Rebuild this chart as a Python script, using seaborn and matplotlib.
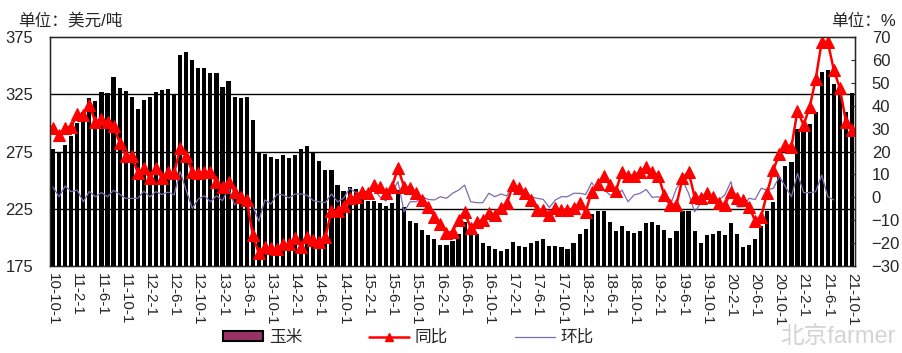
import numpy as np
import pandas as pd
import seaborn as sns
import matplotlib.pyplot as plt
from matplotlib.patches import Patch
from matplotlib.lines import Line2D

# 玉米价格 (美元/吨), monthly 2010-10 .. 2021-10
corn = [277, 273.5, 281, 289, 300, 310, 322, 319, 327, 326,
        340, 331, 328, 323, 312, 320, 323, 327, 329, 329.5,
        325.5, 359.5, 362.5, 355, 348.5, 348.5, 343.5, 343.5, 331.5, 336.5,
        323, 321.5, 323, 303, 275, 273, 270, 268, 272, 269,
        272, 277, 280, 274.5, 267, 259, 259, 246, 240, 243.5,
        242.5, 238, 231.5, 231.5, 229.5, 227, 229.5, 241, 226, 214.5,
        212, 206.5, 201.5, 198, 193.5, 193.5, 197, 202.5, 213, 206,
        202.5, 194.5, 192.5, 190, 188, 189.5, 196, 192.5, 191.5, 194.5,
        197, 198.5, 192.5, 192.5, 191, 190, 194.5, 203, 207.5, 220.5,
        223, 222.5, 213.5, 205.5, 210, 205, 204, 205.5, 212.5, 213.5,
        211, 206.5, 199.5, 205, 222.5, 222.5, 205, 195, 202, 203,
        205, 202, 212, 203, 191.5, 193.5, 198, 210, 222.5, 231,
        252.5, 262, 265.5, 295, 294, 299.5, 309.5, 344.5, 346.5, 334.5,
        328, 309.5, 326]

# 同比 (%)
yoy = [30.4, 27.2, 30.4, 30.9, 36.4, 36, 40.4, 33, 34.2, 33,
       31.2, 23.9, 18.2, 18.2, 10.7, 12.6, 8.2, 12.6, 8.2, 11.2,
       10.4, 21.4, 18.2, 11.2, 10.4, 11.2, 10.9, 6.5, 4.6, 6.8,
       2.4, 0.2, -1.2, -16.6, -24.6, -21.7, -22.4, -22.8, -20.5, -20.7,
       -18, -21.7, -17.6, -18.8, -19.5, -17.6, -5.9, -5.9, -3.7, -0.5,
       -0.1, 2.4, 2, 5.3, 4.6, 1.7, 4.6, 12.6, 4.6, 3.9,
       1.7, -1.2, -4.2, -8.5, -11.9, -15.8, -15.1, -9.8, -6.4, -13.6,
       -10.7, -10, -7, -7.6, -4.7, -2.5, 5.3, 4.1, 1.8, -1.2,
       -5.6, -5.6, -7.6, -4.9, -5.6, -5.6, -4.9, -2.7, -6.4, 2.4,
       5.8, 9.3, 5.3, 2.8, 11.2, 9.4, 9.4, 11.2, 13.1, 11.2,
       9.4, 0.9, -3.4, -3.4, 8.2, 11.2, 0.2, -0.5, 1.7, 0.2,
       -2.7, -3.4, 2.4, -0.5, -1.2, -4.2, -10.3, -8.5, 2, 11.9,
       18.9, 22.8, 22.1, 37.9, 31.6, 39.3, 51.6, 68, 68, 55.7,
       47.7, 33.1, 29.4]

# 环比 (%), no data for the last three months
mom = [4.4, 0.2, 4.9, 2.4, 3.1, -2, 2.5, 0.2, 2, 0.2,
       3, 1.3, -0.5, -0.5, -0.5, 2.6, 0.2, 2.4, 1.2, 2.2,
       1, 11.2, 3, -4.9, -0.8, 0.6, -2, 0.6, -1.5, 4,
       -3.4, -0.7, -1.2, -3.8, -10.5, -1.2, -3, 1.3, 1, -0.3,
       1.4, 1.4, 0.8, -1.5, -2, -2.4, 1.4, -2, -0.5, 3.9,
       2, 1.7, 0.5, 3.1, 0.2, -1.7, 2.4, 6.8, -6.4, -2,
       -2, 0.2, -1, -1.2, 0.2, -0.5, 1.7, 3.1, 5.3, -2,
       -2.4, -2.4, 1.7, 0.2, 1.4, 0.5, 6.8, 2.4, 3.1, 0.2,
       -0.5, -1, -4.5, -1.2, 0.2, 0.2, 1.7, 1.7, 1.2, 6.4,
       2.8, 3.4, 1, 0.5, 3.1, -2, 1, 1.7, 3.4, -0.1,
       0.2, -1, -3.4, 3.9, 7.5, 1.7, -6.4, -2.7, 1.7, 0.2,
       -1.2, 1, 6.8, -4.2, -4.2, -0.5, -1, 3.9, 3.1, 3.9,
       9, 4.6, 0.2, 10.4, 2, 2, 2.4, 9.7, 0.2, -1.2,
       np.nan, np.nan, np.nan]

tick_labels = ["10-10-1", "11-2-1", "11-6-1", "11-10-1", "12-2-1", "12-6-1",
               "12-10-1", "13-2-1", "13-6-1", "13-10-1", "14-2-1", "14-6-1",
               "14-10-1", "15-2-1", "15-6-1", "15-10-1", "16-2-1", "16-6-1",
               "16-10-1", "17-2-1", "17-6-1", "17-10-1", "18-2-1", "18-6-1",
               "18-10-1", "19-2-1", "19-6-1", "19-10-1", "20-2-1", "20-6-1",
               "20-10-1", "21-2-1", "21-6-1", "21-10-1"]

df = pd.DataFrame({"pos": np.arange(len(corn)), "corn": corn, "yoy": yoy, "mom": mom})

sns.set_style("white")
plt.rcParams["font.family"] = ["Liberation Sans", "Noto Sans CJK SC", "DejaVu Sans"]

fig = plt.figure(figsize=(9.02, 3.53), dpi=100)
ax = fig.add_axes([50 / 902, 1 - 265.7 / 353, 805 / 902, (265.7 - 37.3) / 353])

sns.barplot(data=df, x="pos", y="corn", color="black", width=0.68,
            errorbar=None, linewidth=0, ax=ax, zorder=2)
ax.set_ylim(175, 375)
ax.set_xlim(-0.5, len(corn) - 0.5)
ax.set_yticks([175, 225, 275, 325, 375])
# grid drawn above the bars so it stays a solid line
for v in [225, 275, 325]:
    ax.axhline(v, color="black", linewidth=1.0, zorder=3)
ax.tick_params(axis="y", length=0, pad=12, labelsize=12)
ax.set_xticks(np.arange(0, len(corn), 4))
ax.set_xticklabels(tick_labels, rotation=270, fontsize=11)
ax.tick_params(axis="x", length=0, pad=5)
ax.set_xlabel("")
ax.set_ylabel("")
for s in ax.spines.values():
    s.set_color("black")
    s.set_linewidth(1.0)

ax2 = ax.twinx()
sns.lineplot(data=df, x="pos", y="mom", color="#7d6bb0", linewidth=0.9,
             estimator=None, ax=ax2)
sns.lineplot(data=df, x="pos", y="yoy", color="#ff0000", linewidth=1.8,
             marker="^", markersize=8, markeredgecolor="#ff0000",
             estimator=None, ax=ax2)
ax2.set_ylim(-30, 70)
ax2.set_yticks(np.arange(-30, 71, 10))
ax2.tick_params(axis="y", direction="in", length=3, pad=12, labelsize=12)
ax2.set_ylabel("")
ax2.set_xlim(-0.5, len(corn) - 0.5)

fig.text(18 / 902, 1 - 21 / 353, "单位：美元/吨", fontsize=12, va="center")
fig.text(896 / 902, 1 - 21 / 353, "单位：%", fontsize=12, va="center", ha="right")

handles = [Patch(facecolor="#993366", edgecolor="black", linewidth=1.5),
           Line2D([], [], color="#ff0000", linewidth=1.8, marker="^", markersize=6),
           Line2D([], [], color="#7d6bb0", linewidth=0.9)]
fig.legend(handles, ["玉米", "同比", "环比"], loc="center", ncol=3,
           bbox_to_anchor=(0.453, 0.045), frameon=False, fontsize=12,
           handlelength=2.4, handleheight=0.5, handletextpad=0.35, columnspacing=4)

fig.text(0.993, 0.045, "北京farmer", fontsize=17, color="#d4d4d4", ha="right", va="center")

fig.savefig("out.png", dpi=100)
